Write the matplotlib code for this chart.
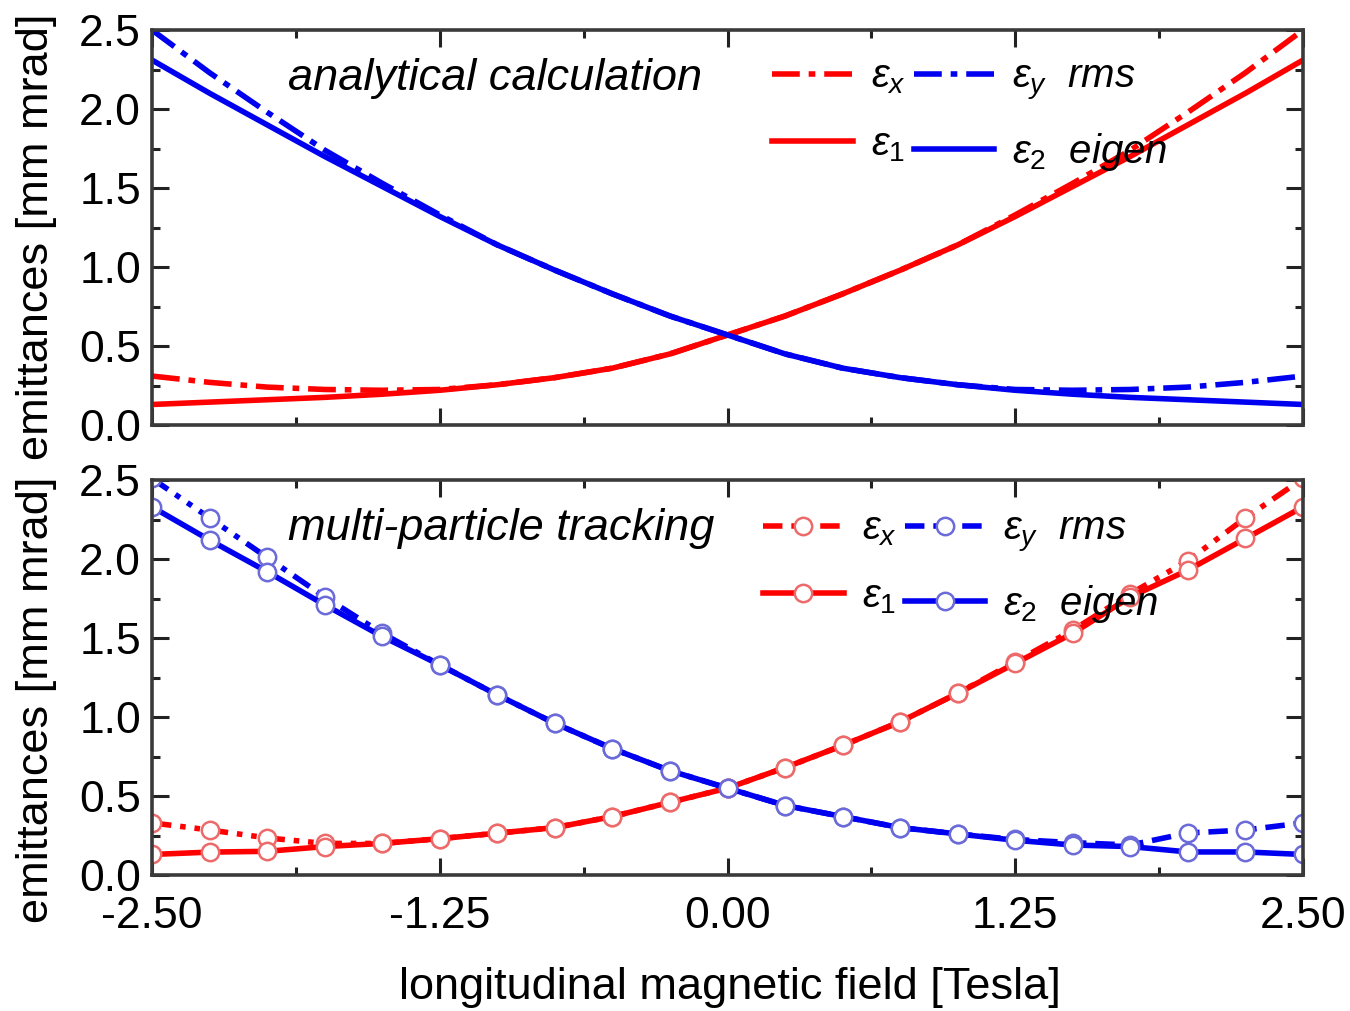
import matplotlib
matplotlib.use("Agg")
import matplotlib.pyplot as plt
from matplotlib.ticker import FixedLocator, FormatStrFormatter

plt.rcParams['font.family'] = ['Liberation Sans', 'DejaVu Sans']
plt.rcParams['mathtext.fontset'] = 'custom'
plt.rcParams['mathtext.it'] = 'Liberation Sans:italic'
plt.rcParams['mathtext.rm'] = 'Liberation Sans'

# field values [Tesla]
B = [-2.50, -2.25, -2.00, -1.75, -1.50, -1.25, -1.00, -0.75, -0.50, -0.25, 0.00,
     0.25, 0.50, 0.75, 1.00, 1.25, 1.50, 1.75, 2.00, 2.25, 2.50]

# analytical calculation
eps1_calc = [0.13, 0.145, 0.16, 0.175, 0.195, 0.22, 0.255, 0.30, 0.36, 0.45, 0.57,
             0.69, 0.83, 0.98, 1.14, 1.32, 1.51, 1.70, 1.90, 2.10, 2.31]
eps2_calc = [2.31, 2.10, 1.90, 1.70, 1.51, 1.32, 1.14, 0.98, 0.83, 0.69, 0.57,
             0.45, 0.36, 0.30, 0.255, 0.22, 0.195, 0.175, 0.16, 0.145, 0.13]
epsx_calc = [0.31, 0.27, 0.24, 0.225, 0.22, 0.225, 0.255, 0.30, 0.36, 0.45, 0.57,
             0.69, 0.83, 0.98, 1.14, 1.33, 1.53, 1.74, 1.98, 2.23, 2.50]
epsy_calc = [2.50, 2.23, 1.98, 1.74, 1.53, 1.33, 1.14, 0.98, 0.83, 0.69, 0.57,
             0.45, 0.36, 0.30, 0.255, 0.225, 0.22, 0.225, 0.24, 0.27, 0.31]

# multi-particle tracking
eps1_track = [0.13, 0.145, 0.15, 0.18, 0.20, 0.23, 0.265, 0.30, 0.37, 0.46, 0.55,
              0.68, 0.82, 0.97, 1.15, 1.34, 1.53, 1.76, 1.93, 2.13, 2.33]
eps2_track = [2.33, 2.12, 1.92, 1.71, 1.51, 1.33, 1.14, 0.96, 0.80, 0.66, 0.55,
              0.44, 0.37, 0.30, 0.26, 0.22, 0.19, 0.18, 0.146, 0.146, 0.13]
epsx_track = [0.33, 0.285, 0.235, 0.20, 0.20, 0.23, 0.265, 0.30, 0.37, 0.46, 0.55,
              0.68, 0.82, 0.97, 1.15, 1.35, 1.55, 1.78, 1.99, 2.26, 2.51]
epsy_track = [2.51, 2.26, 2.01, 1.76, 1.53, 1.33, 1.14, 0.96, 0.80, 0.66, 0.55,
              0.44, 0.37, 0.30, 0.26, 0.225, 0.205, 0.19, 0.266, 0.285, 0.33]

RED = "#ff0000"
BLUE = "#0000f0"
RED_M = "#ec6a6a"
BLUE_M = "#6a6ad8"

fig = plt.figure(figsize=(13.5, 10.11), dpi=100)
ax1 = fig.add_axes([0.1126, 0.5796, 0.8526, 0.3907])
ax2 = fig.add_axes([0.1126, 0.1345, 0.8526, 0.3907])

lw = 4.0
dd_top = (5, 1.6, 1.2, 1.6)
dd_bot = (3.5, 1.6, 1, 1.6, 1, 1.6)

# =========================
# analytical
# =========================
l_x, = ax1.plot(B, epsx_calc, color=RED, lw=lw, dashes=dd_top)
l_y, = ax1.plot(B, epsy_calc, color=BLUE, lw=lw, dashes=dd_top)
l_1, = ax1.plot(B, eps1_calc, color=RED, lw=lw)
l_2, = ax1.plot(B, eps2_calc, color=BLUE, lw=lw)

# =========================
# tracking
# =========================
mk = dict(marker="o", markersize=12.5, markerfacecolor="white", markeredgewidth=1.8)
m_x, = ax2.plot(B, epsx_track, color=RED, lw=lw, dashes=dd_bot, markeredgecolor=RED_M, **mk)
m_y, = ax2.plot(B, epsy_track, color=BLUE, lw=lw, dashes=dd_bot, markeredgecolor=BLUE_M, **mk)
m_1, = ax2.plot(B, eps1_track, color=RED, lw=lw, markeredgecolor=RED_M, **mk)
m_2, = ax2.plot(B, eps2_track, color=BLUE, lw=lw, markeredgecolor=BLUE_M, **mk)

for ax in (ax1, ax2):
    ax.set_xlim(-2.5, 2.5)
    ax.set_ylim(0, 2.5)
    ax.xaxis.set_major_locator(FixedLocator([-2.5, -1.25, 0, 1.25, 2.5]))
    ax.xaxis.set_minor_locator(FixedLocator([-1.875, -0.625, 0.625, 1.875]))
    ax.yaxis.set_major_locator(FixedLocator([0, 0.5, 1.0, 1.5, 2.0, 2.5]))
    ax.yaxis.set_minor_locator(FixedLocator([0.25, 0.75, 1.25, 1.75, 2.25]))
    ax.xaxis.set_major_formatter(FormatStrFormatter("%.2f"))
    ax.yaxis.set_major_formatter(FormatStrFormatter("%.1f"))
    ax.tick_params(which="both", direction="in", top=True, right=True,
                   color="#222222", width=2.2)
    ax.tick_params(which="major", length=12, labelsize=32, pad=8)
    ax.tick_params(which="minor", length=6)
    for s in ax.spines.values():
        s.set_linewidth(2.6)
        s.set_color("#3a3a3a")

ax1.tick_params(labelbottom=False)
ax2.tick_params(axis="x", pad=15)

ax1.text(0.118, 0.878, "analytical calculation", transform=ax1.transAxes,
         fontsize=32.5, style="italic", va="center", ha="left")
ax2.text(0.118, 0.878, "multi-particle tracking", transform=ax2.transAxes,
         fontsize=32.5, style="italic", va="center", ha="left")

leg_kw = dict(ncol=2, frameon=False, fontsize=29, handlelength=2.0,
              handletextpad=0.45, columnspacing=0.2, labelspacing=0.72,
              borderpad=0, borderaxespad=0, loc="upper left")
labels = [r"$\varepsilon_x$", r"$\varepsilon_1$",
          r"$\varepsilon_y$  $rms$", r"$\varepsilon_2$  $eigen$"]
ax1.legend([l_x, l_1, l_y, l_2], labels, bbox_to_anchor=(0.539, 0.93), **leg_kw)
ax2.legend([m_x, m_1, m_y, m_2], labels, bbox_to_anchor=(0.531, 0.925), **leg_kw)

fig.text(0.027, 1 - 237 / 1011, "emittances [mm mrad]", rotation=90,
         fontsize=32.5, ha="center", va="center")
fig.text(0.027, 1 - 700 / 1011, "emittances [mm mrad]", rotation=90,
         fontsize=32.5, ha="center", va="center")
fig.text(730 / 1350, 1 - 988 / 1011, "longitudinal magnetic field [Tesla]",
         fontsize=32.5, ha="center", va="center")

fig.savefig("out.png", dpi=100)
